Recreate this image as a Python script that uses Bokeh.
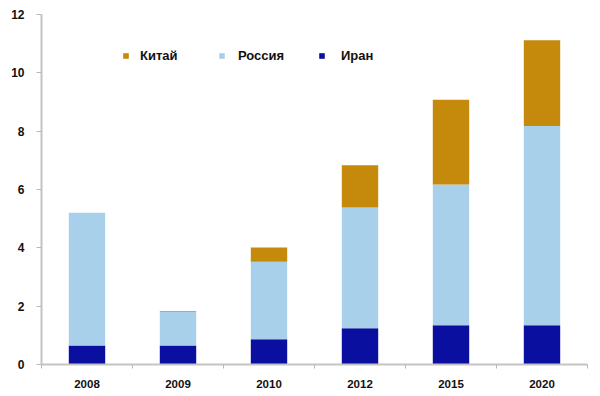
from bokeh.plotting import figure
from bokeh.models import Range1d, FixedTicker, Legend, LegendItem, ColumnDataSource
from bokeh.embed import file_html
from bokeh.resources import INLINE

years = ["2008", "2009", "2010", "2012", "2015", "2020"]
iran = [0.65, 0.65, 0.87, 1.24, 1.35, 1.35]
russia = [4.55, 1.15, 2.65, 4.14, 4.82, 6.83]
china = [0.0, 0.03, 0.49, 1.45, 2.91, 2.94]
y_ticks = [0, 2, 4, 6, 8, 10, 12]

x = [i + 0.5 for i in range(len(years))]
src = ColumnDataSource(dict(x=x, iran=iran, russia=russia, china=china))

p = figure(width=600, height=396, output_backend="svg", toolbar_location=None,
           x_range=Range1d(0, len(years)), y_range=Range1d(0, 12),
           min_border_left=41, min_border_right=13, min_border_top=14, min_border_bottom=32)
p.outline_line_color = None
p.grid.grid_line_color = None

colors = {"china": "#C58A0C", "russia": "#A9D0EA", "iran": "#0A0FA0"}
r = p.vbar_stack(["iran", "russia", "china"], x="x", width=0.4, source=src,
                 color=[colors["iran"], colors["russia"], colors["china"]], line_color=None)

# axes
ax = p.xaxis[0]
ax.ticker = FixedTicker(ticks=x, minor_ticks=list(range(len(years) + 1)))
ax.major_label_overrides = {xx: y for xx, y in zip(x, years)}
ax.major_tick_out = 0
ax.major_tick_in = 0
ax.minor_tick_out = 4
ax.minor_tick_in = 0
ax.minor_tick_line_color = "#b8b8b8"
ax.axis_line_color = "#c4c4c4"
ax.axis_line_width = 2
ax.major_label_text_font = "Liberation Sans"
ax.major_label_text_font_style = "bold"
ax.major_label_text_font_size = "11.5px"
ax.major_label_text_color = "#111111"
ax.major_label_standoff = 11

ay = p.yaxis[0]
ay.ticker = FixedTicker(ticks=y_ticks)
ay.minor_tick_line_color = None
ay.major_tick_out = 5
ay.major_tick_in = 0
ay.major_tick_line_color = "#b8b8b8"
ay.axis_line_color = "#c4c4c4"
ay.axis_line_width = 2
ay.major_label_text_font = "Liberation Sans"
ay.major_label_text_font_style = "bold"
ay.major_label_text_font_size = "12px"
ay.major_label_text_color = "#111111"
ay.major_label_standoff = 12

# legends (one per item, positioned as in reference)
labels = [("Китай", r[2], 81, 11), ("Россия", r[1], 177, 13), ("Иран", r[0], 277, 16)]
for name, rend, lx, standoff in labels:
    lg = Legend(items=[LegendItem(label=name, renderers=[rend])], location=(lx, 301),
                orientation="horizontal", padding=0, margin=0, spacing=0,
                glyph_width=7, glyph_height=7, label_standoff=standoff,
                border_line_color=None, background_fill_alpha=0,
                label_text_font="Liberation Sans", label_text_font_style="bold",
                label_text_font_size="13px", label_text_color="#111111",
                label_height=14)
    p.add_layout(lg)

open("out.html", "w").write(file_html(p, INLINE))
